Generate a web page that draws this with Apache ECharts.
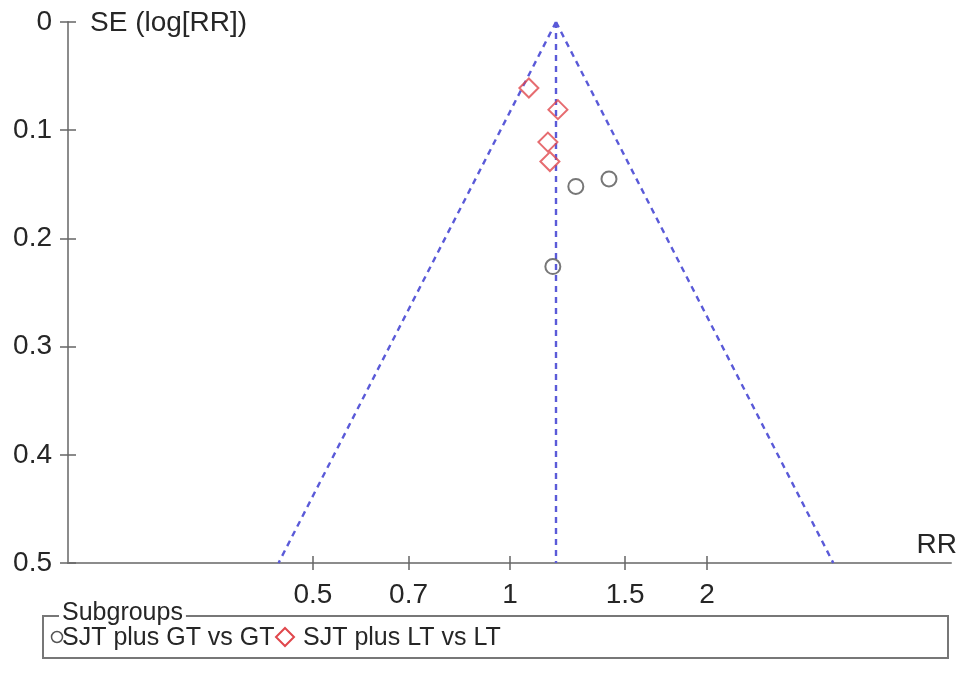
<!DOCTYPE html>
<html>
<head>
<meta charset="utf-8">
<script src="https://cdn.jsdelivr.net/npm/echarts@6/dist/echarts.min.js"></script>
<style>html,body{margin:0;padding:0;background:#fff;}#c{width:969px;height:673px;}</style>
</head>
<body>
<div id="c"></div>
<script>
// ---- data ----
var xTickValues = [0.5, 0.7, 1, 1.5, 2];
var xTickLabels = ['0.5', '0.7', '1', '1.5', '2'];
var yTickInterval = 0.1;
var seriesNames = ['SJT plus GT vs GT', 'SJT plus LT vs LT'];
var gtRR = [1.261, 1.417, 1.163];
var gtSE = [0.152, 0.145, 0.226];
var ltRR = [1.069, 1.184, 1.143, 1.151];
var ltSE = [0.061, 0.081, 0.111, 0.129];
var pooledRR = 1.176;
var funnelLeftRR = 0.443;
var funnelRightRR = 3.12;
var seMax = 0.5;

var FONT = '"Liberation Sans", Arial, Helvetica, sans-serif';
var TXT = '#262626';
var ln = Math.log;
var xMin = -1.555, xMax = 1.552;

function pts(rr, se) { return rr.map(function (r, i) { return [ln(r), se[i]]; }); }
function xLabel(v) {
  var e = Math.exp(v), best = 0;
  for (var i = 1; i < xTickValues.length; i++) if (Math.abs(xTickValues[i] - e) < Math.abs(xTickValues[best] - e)) best = i;
  return xTickLabels[best];
}

var dashColor = '#5a5ad8';
var dashStyle = { color: dashColor, width: 2.4, type: [6, 5] };
var chart = echarts.init(document.getElementById('c'));
var axisGray = '#8c8c8c';
chart.setOption({
  animation: false,
  backgroundColor: '#fff',
  grid: [
    { left: 68, right: 18, top: 22, bottom: 110 },
    { left: 68, right: 18, top: 22, bottom: 110 }
  ],
  xAxis: [
    { type: 'value', gridIndex: 0, min: xMin, max: xMax, position: 'bottom',
      axisLine: { show: true, onZero: false, lineStyle: { color: axisGray, width: 2 } },
      axisTick: { show: true, inside: false, length: 7, customValues: xTickValues.map(ln), lineStyle: { color: '#666', width: 1.5 } },
      axisLabel: { show: true, margin: 18, customValues: xTickValues.map(ln), formatter: xLabel,
        fontSize: 28, fontFamily: FONT, color: TXT },
      splitLine: { show: false } },
    { type: 'value', gridIndex: 1, min: xMin, max: xMax, position: 'bottom',
      axisLine: { show: false, onZero: false },
      axisTick: { show: true, inside: true, length: 7, customValues: xTickValues.map(ln), lineStyle: { color: '#666', width: 1.5 } },
      axisLabel: { show: false, customValues: xTickValues.map(ln) },
      splitLine: { show: false } }
  ],
  yAxis: [
    { type: 'value', gridIndex: 0, min: 0, max: seMax, interval: yTickInterval, inverse: true, position: 'left',
      axisLine: { show: true, onZero: false, lineStyle: { color: axisGray, width: 2 } },
      axisTick: { show: true, inside: false, length: 8, lineStyle: { color: '#666', width: 1.5 } },
      axisLabel: { margin: 16, fontSize: 28, fontFamily: FONT, color: TXT },
      splitLine: { show: false } },
    { type: 'value', gridIndex: 1, min: 0, max: seMax, interval: yTickInterval, inverse: true, position: 'left',
      axisLine: { show: false, onZero: false },
      axisTick: { show: true, inside: true, length: 8, lineStyle: { color: '#666', width: 1.5 } },
      axisLabel: { show: false },
      splitLine: { show: false } }
  ],
  series: [
    { type: 'line', name: 'funnel-left', xAxisIndex: 0, yAxisIndex: 0, symbol: 'none', silent: true,
      data: [[ln(pooledRR), 0], [ln(funnelLeftRR), seMax]], lineStyle: dashStyle, z: 1 },
    { type: 'line', name: 'funnel-right', xAxisIndex: 0, yAxisIndex: 0, symbol: 'none', silent: true,
      data: [[ln(pooledRR), 0], [ln(funnelRightRR), seMax]], lineStyle: dashStyle, z: 1 },
    { type: 'line', name: 'pooled', xAxisIndex: 0, yAxisIndex: 0, symbol: 'none', silent: true,
      data: [[ln(pooledRR), 0], [ln(pooledRR), seMax]], lineStyle: dashStyle, z: 1 },
    { type: 'scatter', name: seriesNames[0], xAxisIndex: 0, yAxisIndex: 0,
      data: pts(gtRR, gtSE), symbol: 'circle', symbolSize: 15,
      itemStyle: { color: 'rgba(0,0,0,0)', borderColor: '#555', borderWidth: 2 }, z: 3 },
    { type: 'scatter', name: seriesNames[1], xAxisIndex: 0, yAxisIndex: 0,
      data: pts(ltRR, ltSE), symbol: 'diamond', symbolSize: 19,
      itemStyle: { color: 'rgba(0,0,0,0)', borderColor: '#e0474c', borderWidth: 2 }, z: 3 }
  ],
  graphic: [
    { type: 'text', left: 90, top: 9, style: { text: 'SE (log[RR])', fontSize: 28, fontFamily: FONT, fill: TXT } },
    { type: 'text', right: 12, top: 531, style: { text: 'RR', fontSize: 28, fontFamily: FONT, fill: TXT } },
    { type: 'rect', shape: { x: 43, y: 616, width: 905, height: 42 }, style: { fill: 'none', stroke: '#777', lineWidth: 2 } },
    { type: 'text', x: 59, y: 613, style: { text: 'Subgroups', fontSize: 25, fontFamily: FONT, fill: TXT,
        verticalAlign: 'middle', backgroundColor: '#fff', padding: [0, 3, 0, 3] }, z: 10 },
    { type: 'circle', shape: { cx: 57, cy: 637, r: 5.5 }, style: { fill: 'none', stroke: '#555', lineWidth: 1.5 } },
    { type: 'text', x: 62, y: 638, style: { text: seriesNames[0], fontSize: 25, fontFamily: FONT, fill: TXT, verticalAlign: 'middle' } },
    { type: 'polygon', shape: { points: [[285, 628], [294, 637], [285, 646], [276, 637]] }, style: { fill: 'none', stroke: '#e0474c', lineWidth: 2 } },
    { type: 'text', x: 303, y: 638, style: { text: seriesNames[1], fontSize: 25, fontFamily: FONT, fill: TXT, verticalAlign: 'middle' } }
  ]
});
</script>
</body>
</html>
